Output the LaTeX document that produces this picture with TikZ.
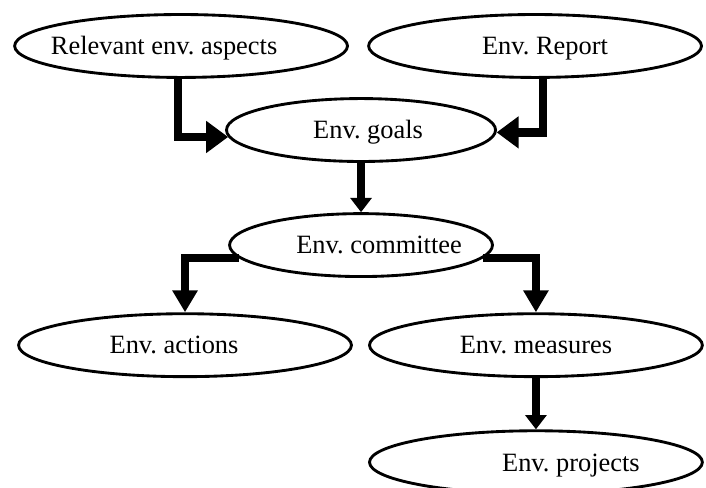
\documentclass[tikz,border=0pt]{standalone}
\usepackage{fontspec}
\setmainfont{Liberation Serif}
\usepackage{tikz}
\usetikzlibrary{positioning}
\usetikzlibrary{shapes.geometric}
\usetikzlibrary{arrows.meta}
\frenchspacing

\begin{document}
\begin{tikzpicture}[auto, node distance = 38.2pt and 81.8pt, on grid, font=\fontsize{12}{14}\selectfont, oval/.style ={ellipse, draw, line width=1.3pt, inner sep=0pt, minimum width=151.3pt, minimum height=28.6pt}, every label/.style={text height=8pt, text depth=0pt}, bigflow/.style={line width=4pt, -{Triangle[width=14pt,length=10pt]}}, midflow/.style={line width=4pt, -{Triangle[width=11pt,length=10pt]}}, smallflow/.style={line width=4pt, -{Triangle[width=9.5pt,length=6.5pt]}}]
\useasboundingbox (-164.1pt,-162.7pt) rectangle (156.8pt,59.1pt);
\node[oval, minimum width=122.3pt, label = {[xshift=3.2pt]center:Env. goals}] (G) {};
\node[oval, label = {[xshift=-7.7pt]center:Relevant env. aspects}] (R) [above left = of G] {};
\node[oval, label = {[xshift=4.5pt]center:Env. Report}] (E) [above right = 38.2pt and 79.1pt of G] {};
\node[oval, minimum width=119.5pt, label = {[xshift=8.2pt]center:Env. committee}] (C) [below = 52.3pt of G] {};
\node[oval, label = {[xshift=-5pt]center:Env. actions}] (A) [below left = 45.5pt and 80pt of C] {};
\node[oval, label = center:Env. measures] (M) [below right = 45.5pt and 79.5pt of C] {};
\node[oval, label = {[xshift=15.9pt]center:Env. projects}] (P) [below = 53.2pt of M] {};
\draw[bigflow] ([xshift=-1.4pt]R.south) |- (G.183);
\draw[bigflow] ([xshift=3.6pt]E.south) |- (G.359);
\draw[smallflow] (G) -- (C);
\draw[midflow] (C.186) -| (A.north);
\draw[midflow] (C.354) -| (M.north);
\draw[smallflow] (M) -- (P);
\end{tikzpicture}
\end{document}
